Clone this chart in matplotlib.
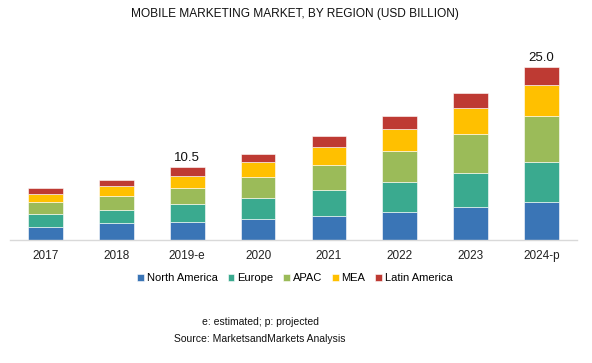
import matplotlib.pyplot as plt
import numpy as np

plt.rcParams['font.family'] = ['Liberation Sans', 'DejaVu Sans']

# market size by region, USD billion
years = ['2017', '2018', '2019-e', '2020', '2021', '2022', '2023', '2024-p']
north_america = [1.93, 2.41, 2.65, 3.08, 3.52, 4.10, 4.78, 5.50]
europe = [1.78, 1.98, 2.52, 3.04, 3.72, 4.34, 4.97, 5.83]
apac = [1.78, 1.93, 2.40, 3.04, 3.66, 4.49, 5.55, 6.61]
mea = [1.11, 1.54, 1.69, 2.07, 2.56, 3.14, 3.76, 4.44]
latin_america = [0.87, 0.82, 1.24, 1.26, 1.64, 1.93, 2.27, 2.62]

regions = ['North America', 'Europe', 'APAC', 'MEA', 'Latin America']
colors = ['#3a75b6', '#3aaa8f', '#9bbb59', '#ffc000', '#be3a33']
series = [north_america, europe, apac, mea, latin_america]

# only these totals are labelled
labelled = {'2019-e': '10.5', '2024-p': '25.0'}

fig = plt.figure(figsize=(5.92, 3.63), dpi=100)
ax = fig.add_axes([10 / 592, 1 - 240 / 363, 567 / 592, 193.5 / 363])

x = np.arange(len(years))
bottom = np.zeros(len(years))
for name, vals, c in zip(regions, series, colors):
    ax.bar(x, vals, 0.49, bottom=bottom, color=c, edgecolor='white',
           linewidth=0.4, label=name)
    bottom += np.array(vals)

for i, yr in enumerate(years):
    if yr in labelled:
        ax.text(i, bottom[i] + 0.5, labelled[yr], ha='center', va='bottom',
                fontsize=9.5, color='#111111')

ax.set_xlim(-0.5, len(years) - 0.5)
ax.set_ylim(0, 28)
ax.set_xticks(x)
ax.set_xticklabels(years, fontsize=8.5, color='#222222')
ax.tick_params(axis='x', length=0, pad=7)
ax.set_yticks([])
for s in ['top', 'right', 'left']:
    ax.spines[s].set_visible(False)
ax.spines['bottom'].set_color('#d9d9d9')
ax.spines['bottom'].set_linewidth(1)

fig.text(295 / 592, 1 - 14 / 363, 'MOBILE MARKETING MARKET, BY REGION (USD BILLION)',
         ha='center', va='center', fontsize=8.6, color='#111111')

fig.legend(loc='center', bbox_to_anchor=(295 / 592, 1 - 278 / 363), ncol=5,
           frameon=False, fontsize=8, handlelength=0.6, handleheight=0.6,
           handletextpad=0.25, columnspacing=0.9)

fig.text(260 / 592, 1 - 322 / 363, 'e: estimated; p: projected',
         ha='center', va='center', fontsize=7.5, color='#111111')
fig.text(260 / 592, 1 - 339 / 363, 'Source: MarketsandMarkets Analysis',
         ha='center', va='center', fontsize=7.5, color='#111111')

fig.savefig('out.png', dpi=100)
